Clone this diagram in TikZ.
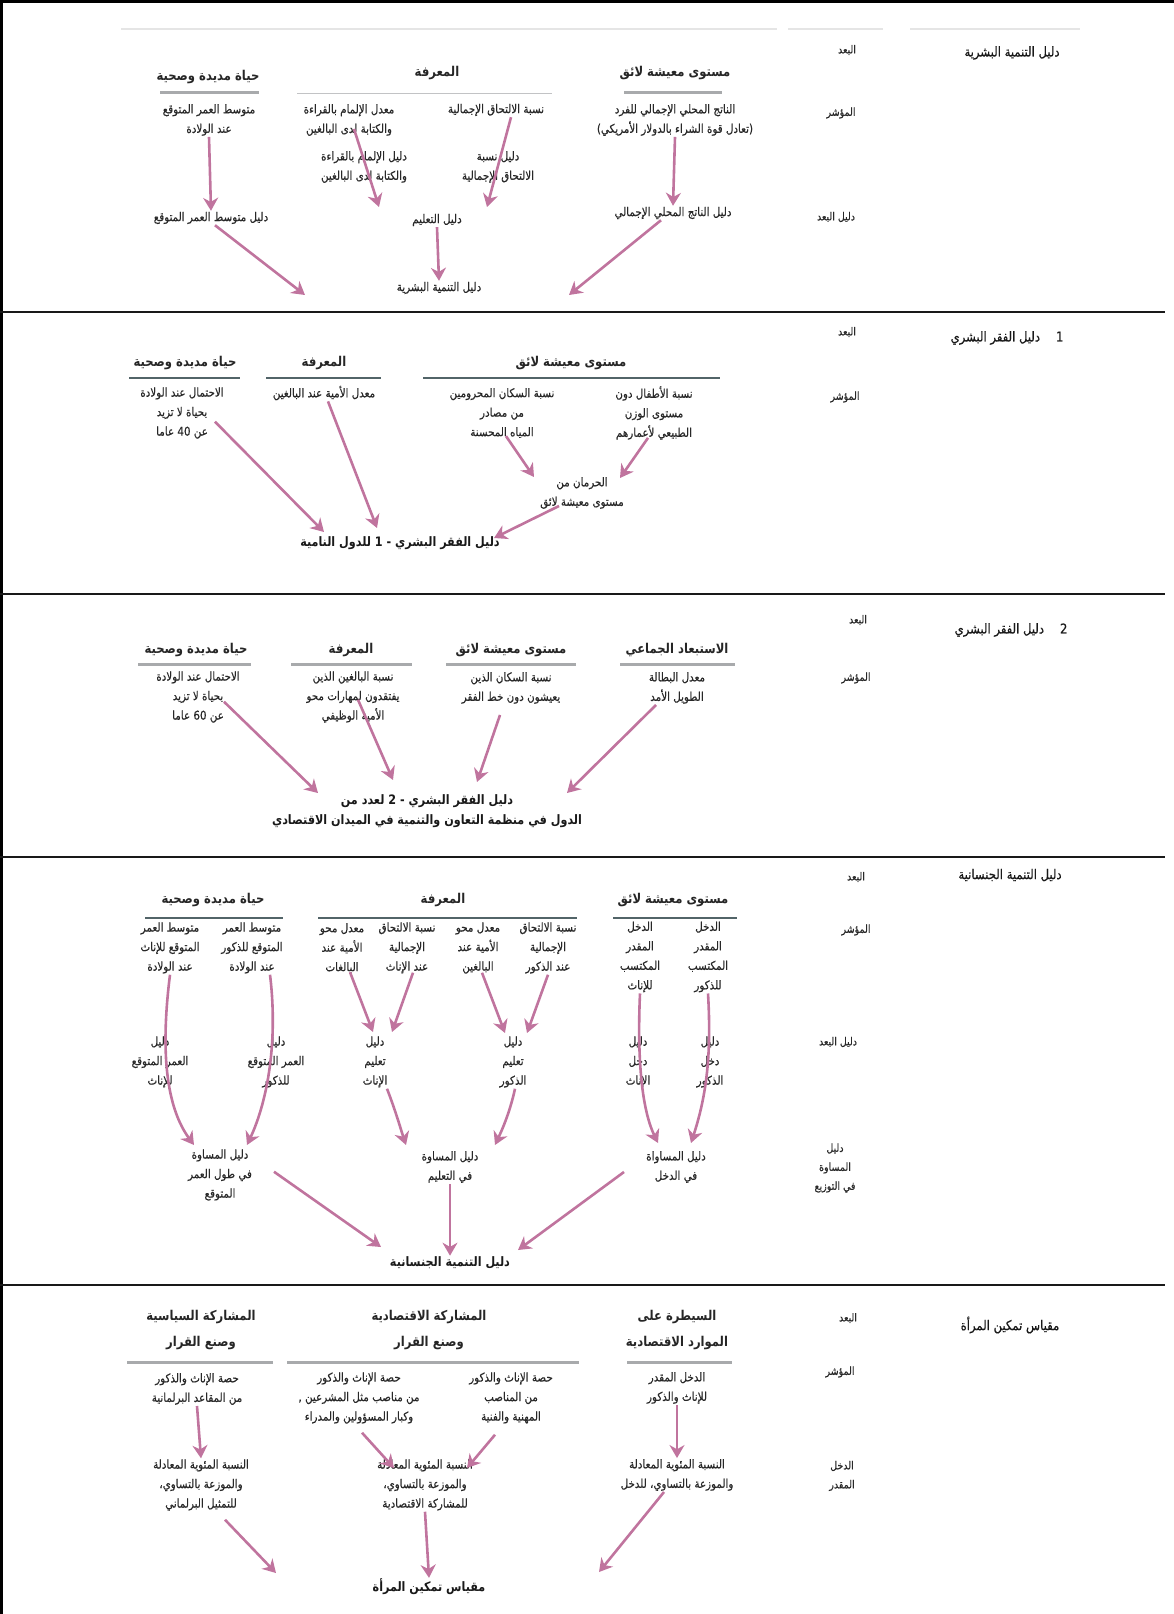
\documentclass[tikz,border=0pt]{standalone}
\usepackage{fontspec}
\usepackage{xcolor}
\usepackage{tikz}
\usetikzlibrary{arrows.meta, positioning, calc}
\newfontfamily\arabicfont[Script=Arabic,FakeStretch=0.86]{DejaVu Sans}
\newfontfamily\arabicbody[Script=Arabic,FakeStretch=0.86,FakeBold=0.5]{DejaVu Sans}
\TeXXeTstate=1
\newcommand{\rl}[1]{\beginR #1\endR}
\definecolor{arrowpink}{RGB}{192,116,158}
\definecolor{rulegray}{RGB}{168,170,172}
\definecolor{ruleslate}{RGB}{82,100,104}
\definecolor{textgray}{RGB}{40,40,40}
\tikzstyle{indtext} = [
    font=\arabicbody\fontsize{12}{19.5}\selectfont,
    text=textgray,
    align=center,
    inner sep=1pt
]
\tikzstyle{dimhead} = [
    font=\arabicfont\bfseries\fontsize{13.5}{26}\selectfont,
    text=black!85,
    align=center,
    inner sep=1pt
]
\tikzstyle{sidetag} = [
    font=\arabicbody\fontsize{11}{19}\selectfont,
    text=textgray,
    align=center,
    inner sep=1pt
]
\tikzstyle{sectitle} = [
    font=\arabicbody\fontsize{13.5}{18}\selectfont,
    text=black!90,
    inner sep=1pt
]
\tikzstyle{finalidx} = [
    font=\arabicfont\bfseries\fontsize{13}{20}\selectfont,
    text=black!90,
    align=center,
    inner sep=1pt
]
\tikzstyle{arrow} = [
    line width=2.6pt,
    draw=arrowpink,
    -{Stealth[length=13pt,width=15pt]}
]
\tikzstyle{greyrule} = [line width=3pt, draw=rulegray]
\tikzstyle{darkrule} = [line width=1.6pt, draw=ruleslate]
\tikzstyle{thinrule} = [line width=1pt, draw=rulegray!70]
\tikzstyle{sectionrule} = [line width=2.5pt, draw=black!90]
\tikzstyle{topguide} = [line width=1.5pt, draw=black!10]

\begin{document}
\begin{tikzpicture}[x=1pt, y=-1pt]
        \useasboundingbox (0,0) rectangle (1174,1614);
        % Frame and guide lines
        \draw[line width=3pt, black] (1.5,1614) -- (1.5,1.5) -- (1174,1.5);
        \draw[topguide] (121,29) -- (777,29);
        \draw[topguide] (788,29) -- (883,29);
        \draw[topguide] (910,29) -- (1080,29);

        % Human development index
        \node[sectitle] (hdi-title) at (1012,53) {\rl{دليل التنمية البشرية}};
        \node[sidetag] (hdi-dim) at (847,50) {\rl{البعد}};
        \node[sidetag] (hdi-ind) at (841,113) {\rl{المؤشر}};
        \node[sidetag] (hdi-idx) at (836,217) {\rl{دليل البعد}};

        \node[dimhead] (hdi-life) at (208,77) {\rl{حياة مديدة وصحية}};
        \node[dimhead] (hdi-know) at (437,73) {\rl{المعرفة}};
        \node[dimhead] (hdi-liv) at (675,73) {\rl{مستوى معيشة لائق}};
        \draw[greyrule] (160,92) -- (259,92);
        \draw[thinrule] (297,93) -- (552,93);
        \draw[greyrule] (624,92) -- (722,92);

        \node[indtext] (hdi-i-life) at (209,120) {\rl{متوسط العمر المتوقع}\\\rl{عند الولادة}};
        \node[indtext] (hdi-i-lit) at (349,120) {\rl{معدل الإلمام بالقراءة}\\\rl{والكتابة لدى البالغين}};
        \node[indtext] (hdi-i-enr) at (496,110) {\rl{نسبة الالتحاق الإجمالية}};
        \node[indtext] (hdi-i-gdp) at (675,120) {\rl{الناتج المحلي الإجمالي للفرد}\\\rl{(تعادل قوة الشراء بالدولار الأمريكي)}};
        \node[indtext] (hdi-s-lit) at (364,167) {\rl{دليل الإلمام بالقراءة}\\\rl{والكتابة لدى البالغين}};
        \node[indtext] (hdi-s-enr) at (498,167) {\rl{دليل نسبة}\\\rl{الالتحاق الإجمالية}};

        \node[indtext] (hdi-d-life) at (211,218) {\rl{دليل متوسط العمر المتوقع}};
        \node[indtext] (hdi-d-edu) at (437,220) {\rl{دليل التعليم}};
        \node[indtext] (hdi-d-gdp) at (673,213) {\rl{دليل الناتج المحلي الإجمالي}};
        \node[indtext] (hdi) at (439,288) {\rl{دليل التنمية البشرية}};

        \coordinate (hdi-lit-tip) at (379,207);
        \coordinate (hdi-enr-tip) at (487,207);
        \coordinate (hdi-l-tip) at (305,295);
        \coordinate (hdi-r-tip) at (569,295);
        \draw[arrow] (hdi-i-life.south) -- (hdi-d-life.north);
        \draw[arrow] ([xshift=5pt,yshift=8pt]hdi-i-lit.south) -- (hdi-lit-tip);
        \draw[arrow] ([xshift=15pt]hdi-i-enr.south) -- (hdi-enr-tip);
        \draw[arrow] (hdi-i-gdp.south) -- (hdi-d-gdp.north);
        \draw[arrow] ([xshift=4pt]hdi-d-life.south) -- (hdi-l-tip);
        \draw[arrow] (hdi-d-edu.south) -- (hdi.north);
        \draw[arrow] ([xshift=-12pt]hdi-d-gdp.south) -- (hdi-r-tip);

        \draw[sectionrule] (0,312) -- (1165,312);

        % Human poverty index 1
        \node[sectitle] (hpa-title) at (1007,338) {\rl{1\hspace{16pt}دليل الفقر البشري}};
        \node[sidetag] (hpa-dim) at (847,332) {\rl{البعد}};
        \node[sidetag] (hpa-ind) at (845,397) {\rl{المؤشر}};

        \node[dimhead] (hpa-life) at (185,363) {\rl{حياة مديدة وصحية}};
        \node[dimhead] (hpa-know) at (324,363) {\rl{المعرفة}};
        \node[dimhead] (hpa-liv) at (571,363) {\rl{مستوى معيشة لائق}};
        \draw[darkrule] (129,378) -- (240,378);
        \draw[darkrule] (266,378) -- (381,378);
        \draw[darkrule] (423,378) -- (720,378);

        \node[indtext] (hpa-i-life) at (182,413) {\rl{الاحتمال عند الولادة}\\\rl{بحياة لا تزيد}\\\rl{عن \beginL 40\endL{} عاما}};
        \node[indtext] (hpa-i-lit) at (324,393) {\rl{معدل الأمية عند البالغين}};
        \node[indtext] (hpa-i-water) at (502,413) {\rl{نسبة السكان المحرومين}\\\rl{من مصادر}\\\rl{المياه المحسنة}};
        \node[indtext] (hpa-i-child) at (654,413) {\rl{نسبة الأطفال دون}\\\rl{مستوى الوزن}\\\rl{الطبيعي لأعمارهم}};
        \node[indtext] (hpa-d-liv) at (582,493) {\rl{الحرمان من}\\\rl{مستوى معيشة لائق}};
        \node[finalidx] (hpa) at (400,543) {\rl{دليل الفقر البشري - 1 للدول النامية}};

        \coordinate (hpa-life-tip) at (324,532);
        \coordinate (hpa-lit-tip) at (377,528);
        \coordinate (hpa-water-tip) at (534,477);
        \coordinate (hpa-child-tip) at (620,478);
        \coordinate (hpa-liv-tip) at (494,538);
        \draw[arrow] ([xshift=33pt,yshift=18pt]hpa-i-life.south) -- (hpa-life-tip);
        \draw[arrow] ([xshift=4pt]hpa-i-lit.south) -- (hpa-lit-tip);
        \draw[arrow] ([xshift=4pt,yshift=3pt]hpa-i-water.south) -- (hpa-water-tip);
        \draw[arrow] ([xshift=-6pt,yshift=3pt]hpa-i-child.south) -- (hpa-child-tip);
        \draw[arrow] ([xshift=-23pt,yshift=4pt]hpa-d-liv.south) -- (hpa-liv-tip);

        \draw[sectionrule] (0,594) -- (1165,594);

        % Human poverty index 2
        \node[sectitle] (hpb-title) at (1011,630) {\rl{2\hspace{16pt}دليل الفقر البشري}};
        \node[sidetag] (hpb-dim) at (858,620) {\rl{البعد}};
        \node[sidetag] (hpb-ind) at (856,678) {\rl{المؤشر}};

        \node[dimhead] (hpb-life) at (196,650) {\rl{حياة مديدة وصحية}};
        \node[dimhead] (hpb-know) at (351,650) {\rl{المعرفة}};
        \node[dimhead] (hpb-liv) at (511,650) {\rl{مستوى معيشة لائق}};
        \node[dimhead] (hpb-excl) at (677,650) {\rl{الاستبعاد الجماعي}};
        \draw[greyrule] (138,664) -- (251,664);
        \draw[greyrule] (291,664) -- (412,664);
        \draw[greyrule] (446,664) -- (576,664);
        \draw[greyrule] (620,664) -- (735,664);

        \node[indtext] (hpb-i-life) at (198,697) {\rl{الاحتمال عند الولادة}\\\rl{بحياة لا تزيد}\\\rl{عن \beginL 60\endL{} عاما}};
        \node[indtext] (hpb-i-lit) at (353,697) {\rl{نسبة البالغين الذين}\\\rl{يفتقدون لمهارات محو}\\\rl{الأمية الوظيفي}};
        \node[indtext] (hpb-i-pov) at (511,688) {\rl{نسبة السكان الذين}\\\rl{يعيشون دون خط الفقر}};
        \node[indtext] (hpb-i-unemp) at (677,688) {\rl{معدل البطالة}\\\rl{الطويل الأمد}};
        \node[finalidx] (hpb) at (427,811) {\rl{دليل الفقر البشري - 2 لعدد من}\\\rl{الدول في منظمة التعاون والتنمية في الميدان الاقتصادي}};

        \coordinate (hpb-life-tip) at (318,793);
        \coordinate (hpb-lit-tip) at (393,780);
        \coordinate (hpb-pov-tip) at (477,782);
        \coordinate (hpb-unemp-tip) at (567,793);
        \draw[arrow] ([xshift=26pt,yshift=22pt]hpb-i-life.south) -- (hpb-life-tip);
        \draw[arrow] ([xshift=5pt,yshift=24pt]hpb-i-lit.south) -- (hpb-lit-tip);
        \draw[arrow] ([xshift=-11pt,yshift=-10pt]hpb-i-pov.south) -- (hpb-pov-tip);
        \draw[arrow] ([xshift=-21pt]hpb-i-unemp.south) -- (hpb-unemp-tip);

        \draw[sectionrule] (0,857) -- (1165,857);

        % Gender-related development index
        \node[sectitle] (gdi-title) at (1010,875) {\rl{دليل التنمية الجنسانية}};
        \node[sidetag] (gdi-dim) at (856,877) {\rl{البعد}};
        \node[sidetag] (gdi-ind) at (856,930) {\rl{المؤشر}};
        \node[sidetag] (gdi-idx) at (838,1042) {\rl{دليل البعد}};
        \node[sidetag] (gdi-eq) at (835,1168) {\rl{دليل}\\\rl{المساوة}\\\rl{في التوزيع}};

        \node[dimhead] (gdi-life) at (213,900) {\rl{حياة مديدة وصحية}};
        \node[dimhead] (gdi-know) at (443,900) {\rl{المعرفة}};
        \node[dimhead] (gdi-liv) at (673,900) {\rl{مستوى معيشة لائق}};
        \draw[darkrule] (145,918) -- (283,918);
        \draw[darkrule] (318,918) -- (577,918);
        \draw[darkrule] (613,918) -- (737,918);

        \node[indtext] (gdi-i-lifef) at (170,948) {\rl{متوسط العمر}\\\rl{المتوقع للإناث}\\\rl{عند الولادة}};
        \node[indtext] (gdi-i-lifem) at (252,948) {\rl{متوسط العمر}\\\rl{المتوقع للذكور}\\\rl{عند الولادة}};
        \node[indtext] (gdi-i-litf) at (342,948) {\rl{معدل محو}\\\rl{الأمية عند}\\\rl{البالغات}};
        \node[indtext] (gdi-i-enrf) at (407,948) {\rl{نسبة الالتحاق}\\\rl{الإجمالية}\\\rl{عند الإناث}};
        \node[indtext] (gdi-i-litm) at (478,948) {\rl{معدل محو}\\\rl{الأمية عند}\\\rl{البالغين}};
        \node[indtext] (gdi-i-enrm) at (548,948) {\rl{نسبة الالتحاق}\\\rl{الإجمالية}\\\rl{عند الذكور}};
        \node[indtext] (gdi-i-incf) at (640,957) {\rl{الدخل}\\\rl{المقدر}\\\rl{المكتسب}\\\rl{للإناث}};
        \node[indtext] (gdi-i-incm) at (708,957) {\rl{الدخل}\\\rl{المقدر}\\\rl{المكتسب}\\\rl{للذكور}};

        \node[indtext] (gdi-d-lifef) at (160,1062) {\rl{دليل}\\\rl{العمر المتوقع}\\\rl{للإناث}};
        \node[indtext] (gdi-d-lifem) at (276,1062) {\rl{دليل}\\\rl{العمر المتوقع}\\\rl{للذكور}};
        \node[indtext] (gdi-d-eduf) at (375,1062) {\rl{دليل}\\\rl{تعليم}\\\rl{الإناث}};
        \node[indtext] (gdi-d-edum) at (513,1062) {\rl{دليل}\\\rl{تعليم}\\\rl{الذكور}};
        \node[indtext] (gdi-d-incf) at (638,1062) {\rl{دليل}\\\rl{دخل}\\\rl{الإناث}};
        \node[indtext] (gdi-d-incm) at (710,1062) {\rl{دليل}\\\rl{دخل}\\\rl{الذكور}};

        \node[indtext] (gdi-q-life) at (220,1175) {\rl{دليل المساوة}\\\rl{في طول العمر}\\\rl{المتوقع}};
        \node[indtext] (gdi-q-edu) at (450,1167) {\rl{دليل المساوة}\\\rl{في التعليم}};
        \node[indtext] (gdi-q-inc) at (676,1167) {\rl{دليل المساواة}\\\rl{في الدخل}};
        \node[finalidx] (gdi) at (450,1263) {\rl{دليل التنمية الجنسانية}};

        \coordinate (gdi-lifef-tip) at (194,1145);
        \coordinate (gdi-lifem-tip) at (247,1145);
        \coordinate (gdi-litf-tip) at (373,1032);
        \coordinate (gdi-enrf-tip) at (392,1032);
        \coordinate (gdi-litm-tip) at (505,1033);
        \coordinate (gdi-enrm-tip) at (527,1033);
        \coordinate (gdi-eduf-tip) at (406,1145);
        \coordinate (gdi-edum-tip) at (495,1145);
        \coordinate (gdi-incf-tip) at (658,1143);
        \coordinate (gdi-incm-tip) at (691,1143);
        \coordinate (gdi-l-tip) at (381,1247);
        \coordinate (gdi-r-tip) at (518,1250);
        \draw[arrow] (gdi-i-lifef.south) .. controls (158,1070) and (172,1115) .. (gdi-lifef-tip);
        \draw[arrow] ([xshift=18pt]gdi-i-lifem.south) .. controls (278,1040) and (268,1100) .. (gdi-lifem-tip);
        \draw[arrow] ([xshift=8pt,yshift=2pt]gdi-i-litf.south) -- (gdi-litf-tip);
        \draw[arrow] ([xshift=6pt,yshift=2pt]gdi-i-enrf.south) -- (gdi-enrf-tip);
        \draw[arrow] ([xshift=4pt,yshift=2pt]gdi-i-litm.south) -- (gdi-litm-tip);
        \draw[arrow] (gdi-i-enrm.south) -- (gdi-enrm-tip);
        \draw[arrow] ([xshift=12pt]gdi-d-eduf.south) .. controls (396,1112) and (401,1130) .. (gdi-eduf-tip);
        \draw[arrow] ([xshift=2pt]gdi-d-edum.south) .. controls (510,1112) and (502,1130) .. (gdi-edum-tip);
        \draw[arrow] (gdi-i-incf.south) .. controls (637,1060) and (642,1110) .. (gdi-incf-tip);
        \draw[arrow] (gdi-i-incm.south) .. controls (712,1060) and (705,1100) .. (gdi-incm-tip);
        \draw[arrow] ([xshift=54pt,yshift=30pt]gdi-q-life.south) -- (gdi-l-tip);
        \draw[arrow] (gdi-q-edu.south) -- (gdi.north);
        \draw[arrow] ([xshift=-52pt,yshift=12pt]gdi-q-inc.south) -- (gdi-r-tip);

        \draw[sectionrule] (0,1285) -- (1165,1285);

        % Gender empowerment measure
        \node[sectitle] (gem-title) at (1010,1325) {\rl{مقياس تمكين المرأة}};
        \node[sidetag] (gem-dim) at (848,1318) {\rl{البعد}};
        \node[sidetag] (gem-ind) at (840,1372) {\rl{المؤشر}};
        \node[sidetag] (gem-inc) at (842,1476) {\rl{الدخل}\\\rl{المقدر}};

        \node[dimhead] (gem-pol) at (201,1330) {\rl{المشاركة السياسية}\\\rl{وصنع القرار}};
        \node[dimhead] (gem-econ) at (429,1330) {\rl{المشاركة الاقتصادية}\\\rl{وصنع القرار}};
        \node[dimhead] (gem-res) at (677,1330) {\rl{السيطرة على}\\\rl{الموارد الاقتصادية}};
        \draw[greyrule] (127,1362) -- (273,1362);
        \draw[greyrule] (287,1362) -- (579,1362);
        \draw[greyrule] (627,1362) -- (732,1362);

        \node[indtext] (gem-i-parl) at (197,1389) {\rl{حصة الإناث والذكور}\\\rl{من المقاعد البرلمانية}};
        \node[indtext] (gem-i-leg) at (359,1398) {\rl{حصة الإناث والذكور}\\\rl{من مناصب مثل المشرعين ,}\\\rl{وكبار المسؤولين والمدراء}};
        \node[indtext] (gem-i-prof) at (511,1398) {\rl{حصة الإناث والذكور}\\\rl{من المناصب}\\\rl{المهنية والفنية}};
        \node[indtext] (gem-i-inc) at (677,1388) {\rl{الدخل المقدر}\\\rl{للإناث والذكور}};

        \node[indtext] (gem-e-parl) at (201,1485) {\rl{النسبة المئوية المعادلة}\\\rl{والموزعة بالتساوي،}\\\rl{للتمثيل البرلماني}};
        \node[indtext] (gem-e-econ) at (425,1485) {\rl{النسبة المئوية المعادلة}\\\rl{والموزعة بالتساوي،}\\\rl{للمشاركة الاقتصادية}};
        \node[indtext] (gem-e-inc) at (677,1475) {\rl{النسبة المئوية المعادلة}\\\rl{والموزعة بالتساوي، للدخل}};
        \node[finalidx] (gem) at (429,1587) {\rl{مقياس تمكين المرأة}};

        \coordinate (gem-leg-tip) at (394,1468);
        \coordinate (gem-prof-tip) at (467,1468);
        \coordinate (gem-l-tip) at (276,1573);
        \coordinate (gem-r-tip) at (599,1572);
        \draw[arrow] (gem-i-parl.south) -- (gem-e-parl.north);
        \draw[arrow] ([xshift=3pt,yshift=-8pt]gem-i-leg.south) -- (gem-leg-tip);
        \draw[arrow] ([xshift=-16pt,yshift=-10pt]gem-i-prof.south) -- (gem-prof-tip);
        \draw[arrow] (gem-i-inc.south) -- (gem-e-inc.north);
        \draw[arrow] ([xshift=24pt,yshift=-8pt]gem-e-parl.south) -- (gem-l-tip);
        \draw[arrow] (gem-e-econ.south) -- (gem.north);
        \draw[arrow] ([xshift=-13pt]gem-e-inc.south) -- (gem-r-tip);
    \end{tikzpicture}
\end{document}
